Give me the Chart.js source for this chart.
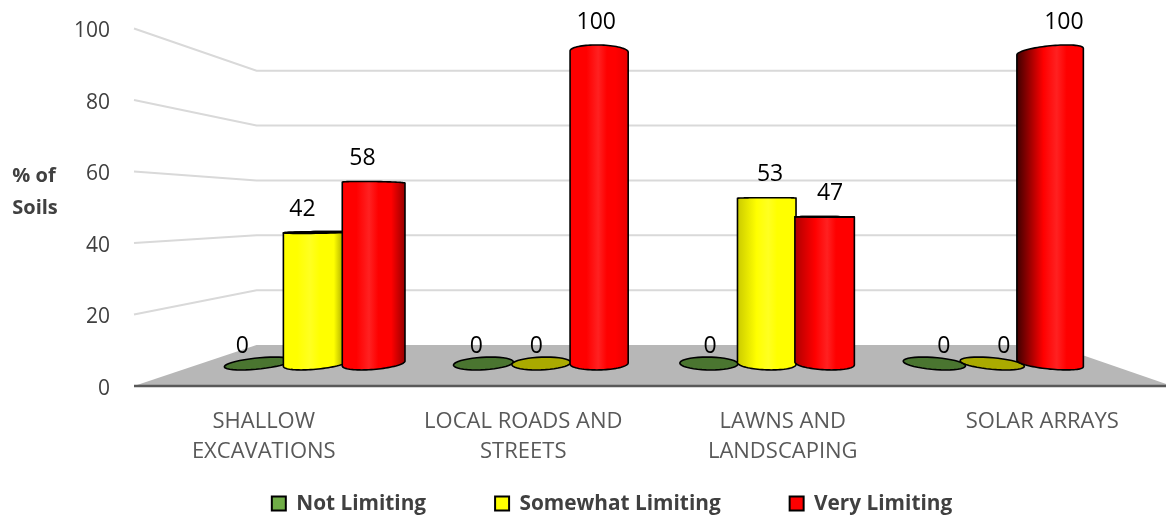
<!DOCTYPE html>
<html>
<head>
<meta charset="utf-8">
<style>
html,body{margin:0;padding:0;background:#fff;overflow:hidden;width:1166px;height:516px}
canvas{display:block}
</style>
<script src="https://cdn.jsdelivr.net/npm/chart.js@4/dist/chart.umd.min.js"></script>
</head>
<body>
<canvas id="c" width="1172" height="516" style="width:1172px;height:516px"></canvas>
<script>
const categories = [["SHALLOW","EXCAVATIONS"],["LOCAL ROADS AND","STREETS"],["LAWNS AND","LANDSCAPING"],["SOLAR ARRAYS"]];
const seriesNames = ["Not Limiting","Somewhat Limiting","Very Limiting"];
const notLimiting = [0,0,0,0];
const somewhatLimiting = [42,0,53,0];
const veryLimiting = [58,100,47,100];
const seriesValues = [notLimiting,somewhatLimiting,veryLimiting];
const legendColors = ["#70ad47","#ffff00","#ff0000"];
const bodyColors = [[112,173,71],[255,255,0],[255,0,0]];
const capColors = ["#4a7530","#aaaa00","#aa0000"];
const FONT = '"Open Sans", sans-serif';

// Perspective of the 3D box
const VP = {x:661, y:210}, DEPTH = 0.7675, S = 0.042;
const back = (x,y)=>({x:VP.x+(x-VP.x)*DEPTH, y:VP.y+(y-VP.y)*DEPTH});
const clamp=(v,a,b)=>Math.max(a,Math.min(b,v));
const shade=(c,t)=>`rgb(${c.map(v=>Math.round(v*(1-t))).join(',')})`;
const light=(c,t)=>`rgb(${c.map(v=>Math.round(v+(255-v)*t)).join(',')})`;

function ellipsePoint(cx,cy,a,dx,dy,t){return [cx+a*Math.cos(t)+dx*Math.sin(t), cy+dy*Math.sin(t)];}
function arc(ctx,cx,cy,a,dx,dy,t1,t2,move){
  const n=40;
  for(let i=0;i<=n;i++){
    const p=ellipsePoint(cx,cy,a,dx,dy,t1+(t2-t1)*i/n);
    if(i===0&&move)ctx.moveTo(p[0],p[1]);else ctx.lineTo(p[0],p[1]);
  }
}
function cylinder(ctx,el,ds){
  const cx=el.x,a=el.width/2,yTop=el.y,yBase=el.base;
  const dx=(VP.x-cx)*S;
  const dyB=(VP.y-yBase)*S, dyT=(VP.y-yTop)*S;
  const t0=Math.atan2(dx,a);
  ctx.lineWidth=1.6;ctx.strokeStyle='#000';ctx.lineJoin='round';
  if(Math.abs(yBase-yTop)<0.5){
    ctx.beginPath();arc(ctx,cx,yBase,a,dx,dyB,0,Math.PI*2,true);ctx.closePath();
    ctx.fillStyle=capColors[ds];ctx.fill();ctx.stroke();return;
  }
  const R=Math.hypot(a,dx);
  const u=(cx-VP.x)/390;
  const col=bodyColors[ds];
  const g=ctx.createLinearGradient(cx-R,0,cx+R,0);
  const h=0.5+0.1*u;
  g.addColorStop(0,shade(col,clamp(u*0.75,0,0.75)));
  g.addColorStop(Math.max(h-0.2,0.02),shade(col,0));
  g.addColorStop(h,light(col,0.13));
  g.addColorStop(h+0.15,shade(col,0));
  g.addColorStop(0.78,shade(col,0));
  g.addColorStop(1,shade(col,clamp(-u*0.55,0,0.5)));
  // silhouette: base front half, then left side, top upper arc, right side
  ctx.beginPath();
  arc(ctx,cx,yBase,a,dx,dyB,t0,t0-Math.PI,true);
  if(dyT>0) arc(ctx,cx,yTop,a,dx,dyT,t0+Math.PI,t0+2*Math.PI,false);
  else arc(ctx,cx,yTop,a,dx,dyT,t0+Math.PI,t0,false);
  ctx.closePath();
  ctx.fillStyle=g;ctx.fill();ctx.stroke();
  if(dyT<0){
    ctx.beginPath();arc(ctx,cx,yTop,a,dx,dyT,0,Math.PI*2,true);ctx.closePath();
    ctx.fillStyle=capColors[ds];ctx.fill();ctx.stroke();
  }
}

const AREA_TOP = 28.5, AREA_BOTTOM = 386;
const scene3D = {
  id:'scene3D',
  afterLayout(chart){
    // front plane of the box, and the smaller rear part of the floor for the bars
    const ca=chart.chartArea; ca.top=AREA_TOP; ca.bottom=AREA_BOTTOM; ca.height=AREA_BOTTOM-AREA_TOP;
    ['y','yBars'].forEach(id=>{
      const s=chart.scales[id]; s.top=AREA_TOP; s.bottom=AREA_BOTTOM; s.height=AREA_BOTTOM-AREA_TOP; s.configure();
    });
    const xs=chart.scales.x; xs.top=AREA_BOTTOM; xs.bottom=516;
    const sx=chart.scales.xBars;
    sx.left=203; sx.right=1105; sx.width=902; sx.configure();
    const lg=chart.legend, dy=-96;
    lg.left+=26; lg.right+=26; lg.top+=dy; lg.bottom+=dy;
  },
  beforeDatasetsDraw(chart){
    const ctx=chart.ctx, ca=chart.chartArea, y=chart.scales.y;
    ctx.save();
    const fl=back(ca.left,ca.bottom), fr=back(ca.right,ca.bottom);
    ctx.beginPath();ctx.moveTo(ca.left,ca.bottom);ctx.lineTo(fl.x,fl.y);ctx.lineTo(fr.x,fr.y);ctx.lineTo(ca.right,ca.bottom);ctx.closePath();
    ctx.fillStyle='#b7b7b7';ctx.fill();
    ctx.strokeStyle='#d9d9d9';ctx.lineWidth=2;
    y.ticks.forEach(t=>{
      const py=y.getPixelForValue(t.value), b=back(ca.left,py), r=back(ca.right,py);
      if(t.value===0)return;
      ctx.beginPath();ctx.moveTo(ca.left,py);ctx.lineTo(b.x,b.y);ctx.lineTo(r.x,r.y);ctx.stroke();
    });
    ctx.strokeStyle='#595959';ctx.lineWidth=2.5;
    ctx.beginPath();ctx.moveTo(ca.left,ca.bottom);ctx.lineTo(ca.right,ca.bottom);ctx.stroke();
    // left title
    ctx.fillStyle='#404040';ctx.font='bold 20px '+FONT;ctx.textAlign='center';ctx.textBaseline='middle';
    ctx.fillText('% of',34,176);ctx.fillText('Soils',35,208);
    // cylinders
    chart.data.datasets.forEach((d,i)=>{
      chart.getDatasetMeta(i).data.forEach(el=>cylinder(ctx,el,i));
    });
    // data labels
    ctx.fillStyle='#000';ctx.font='23px '+FONT;
    chart.data.datasets.forEach((d,i)=>{
      chart.getDatasetMeta(i).data.forEach((el,k)=>{
        const v=d.data[k];
        ctx.fillText(String(v),el.x-1+(el.x-650)*0.037,el.y-17.5-v*0.12);
      });
    });
    ctx.restore();
    return false;
  }
};

new Chart(document.getElementById('c'),{
  type:'bar',
  data:{
    labels:categories,
    datasets:seriesNames.map((n,i)=>({
      label:n,data:seriesValues[i],backgroundColor:legendColors[i],
      borderColor:'#000',borderWidth:2,xAxisID:'xBars',yAxisID:'yBars',
      categoryPercentage:0.77,barPercentage:1
    }))
  },
  plugins:[scene3D],
  options:{
    responsive:false,animation:false,devicePixelRatio:1,
    layout:{padding:{top:22,left:0,right:0,bottom:-104}},
    scales:{
      y:{position:'left',min:0,max:100,ticks:{stepSize:20,padding:24,labelOffset:3,color:'#404040',font:{family:FONT,size:21}},
         border:{display:false},grid:{display:false,drawTicks:false,tickLength:0},
         afterFit(s){s.width=134;}},
      x:{position:'bottom',offset:true,ticks:{maxRotation:0,autoSkip:false,padding:21,color:'#595959',font:{family:FONT,size:22,lineHeight:1.37}},
         border:{display:false},grid:{display:false,drawTicks:false,tickLength:0},
         afterFit(s){s.height=130;}},
      xBars:{axis:'x',type:'category',display:false,offset:true},
      yBars:{axis:'y',type:'linear',display:false,min:-7.22,max:107.4}
    },
    plugins:{
      title:{display:false},tooltip:{enabled:false},
      legend:{position:'bottom',align:'center',
        labels:{boxWidth:14,boxHeight:14,padding:69,color:'#404040',font:{family:FONT,size:20.8,weight:'bold'}}}
    }
  }
});
</script>
</body>
</html>
